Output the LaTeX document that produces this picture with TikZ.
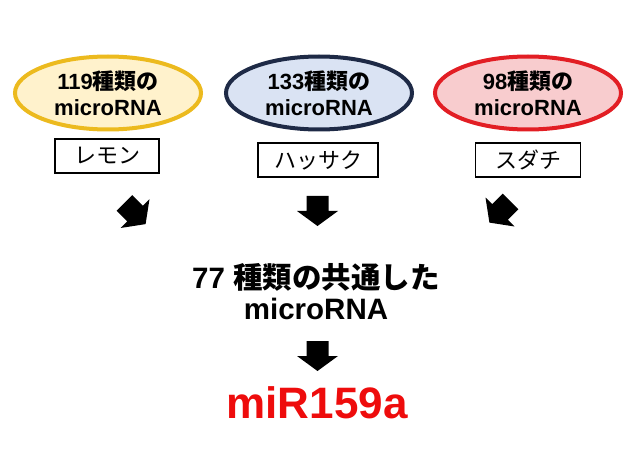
\documentclass[tikz,border=0pt]{standalone}
\usepackage{fontspec}
\setmainfont{Liberation Sans}
\newfontfamily\cjk{Noto Sans CJK JP}
\usepackage{tikz}
\usetikzlibrary{shapes.geometric}
\definecolor{lemonline}{RGB}{236,186,30}
\definecolor{lemonfill}{RGB}{255,242,204}
\definecolor{hassakuline}{RGB}{30,42,70}
\definecolor{hassakufill}{RGB}{218,227,243}
\definecolor{sudachiline}{RGB}{226,30,36}
\definecolor{sudachifill}{RGB}{248,204,206}
\definecolor{mirred}{RGB}{238,12,12}
\tikzset{
  fruit/.style={ellipse, line width=4pt, minimum width=186pt, minimum height=73pt,
    inner sep=0pt, align=center, font=\fontsize{22}{26}\selectfont\bfseries},
  namebox/.style={draw, line width=1.5pt, minimum height=34pt, inner sep=0pt,
    font=\fontsize{22}{26}\selectfont\cjk},
  blockarrow/.pic={
    \fill[black] (-11,-15) -- (11,-15) -- (11,0) -- (20.5,0) -- (0,15)
      -- (-20.5,0) -- (-11,0) -- cycle;
  }
}
\begin{document}
\begin{tikzpicture}[x=1pt, y=-1pt]
  \useasboundingbox (0,0) rectangle (635,476);
  % the three fruits
  \node[fruit, draw=lemonline, fill=lemonfill] (lemon) at (108,93)
    {119{\cjk 種類の}\\microRNA};
  \node[fruit, draw=hassakuline, fill=hassakufill] (hassaku) at (319,93)
    {133{\cjk 種類の}\\microRNA};
  \node[fruit, draw=sudachiline, fill=sudachifill] (sudachi) at (528,93)
    {98{\cjk 種類の}\\microRNA};
  \node[namebox, minimum width=104pt] (lemonname) at (107,156) {レモン};
  \node[namebox, minimum width=120pt] (hassakuname) at (318,160) {ハッサク};
  \node[namebox, minimum width=105pt] (sudachiname) at (528,160) {スダチ};
  % arrows down to the common set
  \pic[rotate=45] at (135,213.5) {blockarrow};
  \pic at (317.5,211) {blockarrow};
  \pic[rotate=-45] at (500,212) {blockarrow};
  \node[align=center, font=\fontsize{29.5}{31}\selectfont\bfseries] (common) at (316,292)
    {77 {\cjk 種類の共通した}\\microRNA};
  \pic at (317.5,356) {blockarrow};
  \node[text=mirred, font=\fontsize{44}{48}\selectfont\bfseries] (mir) at (317,403) {miR159a};
\end{tikzpicture}
\end{document}
